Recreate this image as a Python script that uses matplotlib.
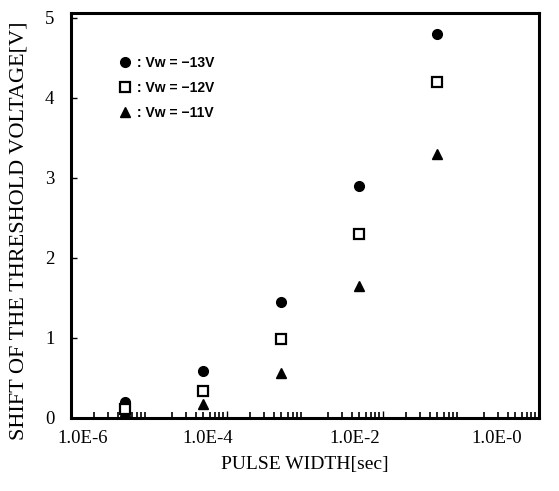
import matplotlib
matplotlib.use("Agg")
import matplotlib.pyplot as plt
import matplotlib.transforms as mtrans
import numpy as np

# pulse width [sec] and threshold shift [V]
pulse = [5e-6, 5e-5, 5e-4, 5e-3, 5e-2]
v13 = [0.20, 0.59, 1.45, 2.89, 4.80]
v12 = [0.11, 0.33, 0.99, 2.30, 4.20]
v11 = [0.08, 0.17, 0.56, 1.65, 3.30]
labels = [" : Vw = \u221213V", " : Vw = \u221212V", " : Vw = \u221211V"]
xticks = [1e-6, 1e-4, 1e-2, 1e0]
xticklabels = ["1.0E-6", "1.0E-4", "1.0E-2", "1.0E-0"]

plt.rcParams['font.family'] = ['Liberation Serif', 'DejaVu Serif']

fig = plt.figure(figsize=(5.59, 4.91), dpi=100)
ax = fig.add_axes([0.127, 0.149, 0.837, 0.825])

h13, = ax.plot(pulse, v13, 'o', color='black', ms=7, ls='none', zorder=3)
h11, = ax.plot(pulse, v11, '^', color='black', ms=7, ls='none', zorder=4)
h12, = ax.plot(pulse, v12, 's', mfc='white', mec='black', mew=1.6, ms=7, ls='none', zorder=5)

ax.set_xscale('log')
ax.set_xlim(1e-6, 1e0)
ax.set_ylim(0, 5.06)
ax.set_xticks(xticks)
ax.set_xticklabels(xticklabels)
ax.set_yticks([0, 1, 2, 3, 4, 5])

for s in ax.spines.values():
    s.set_linewidth(2.2)

ax.tick_params(axis='both', which='both', direction='in', labelsize=13.5)
ax.tick_params(axis='x', which='major', length=5, width=1, pad=9)
ax.tick_params(axis='x', which='minor', length=4, width=1.2)
ax.tick_params(axis='y', which='major', length=4, width=1, pad=12)

# the printed labels sit a bit left of their ticks
shifts = [12, -19, -28, -42]
for lab, dx in zip(ax.get_xticklabels(), shifts):
    lab.set_transform(lab.get_transform() + mtrans.ScaledTranslation(dx / 100, 0, fig.dpi_scale_trans))

ax.set_xlabel('PULSE WIDTH[sec]', fontsize=14, labelpad=6)
ax.set_ylabel('SHIFT OF THE THRESHOLD VOLTAGE[V]', fontsize=16)
ax.yaxis.set_label_coords(-0.09, 0.462)

leg = ax.legend([h13, h12, h11], labels, loc='upper left',
                bbox_to_anchor=(0.07, 0.925), frameon=False,
                handletextpad=0.0, handlelength=1.2, labelspacing=0.8,
                prop={'family': 'Liberation Sans', 'size': 10, 'weight': 'bold'})

fig.savefig('out.png', dpi=100)
